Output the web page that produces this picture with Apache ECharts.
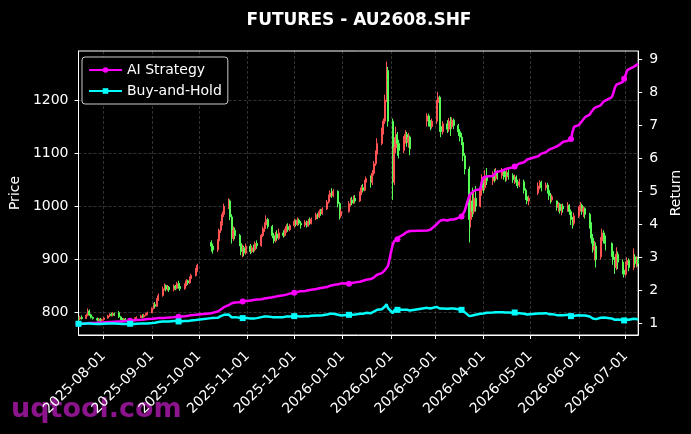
<!DOCTYPE html>
<html><head><meta charset="utf-8">
<script src="https://cdn.jsdelivr.net/npm/echarts@6/dist/echarts.min.js"></script>
<style>html,body{margin:0;padding:0;background:#000;}#c{width:691px;height:434px;}</style>
</head><body><div id="c"></div>
<script>
// ---- data ----
const titleText = 'FUTURES - AU2608.SHF';
const firstDay = '2025-07-16';
const lastDay = '2026-07-09';
// trading days (exchange calendar) per month
const tradingDays = {
  '2025-07': [16,17,18,21,22,23,24,25,28,29,30,31],
  '2025-08': [1,4,5,6,7,8,11,12,13,14,15,18,19,20,21,22,25,26,27,28,29],
  '2025-09': [1,2,3,4,5,8,9,10,11,12,15,16,17,18,19,22,23,24,25,26,29,30],
  '2025-10': [9,10,13,14,15,16,17,20,21,22,23,24,27,28,29,30,31],
  '2025-11': [3,4,5,6,7,10,11,12,13,14,17,18,19,20,21,24,25,26,27,28],
  '2025-12': [1,2,3,4,5,8,9,10,11,12,15,16,17,18,19,22,23,24,25,26,29,30,31],
  '2026-01': [5,6,7,8,9,12,13,14,15,16,19,20,21,22,23,26,27,28,29,30],
  '2026-02': [2,3,4,5,6,9,10,11,12,13,24,25,26,27],
  '2026-03': [2,3,4,5,6,9,10,11,12,13,16,17,18,19,20,23,24,25,26,27,30,31],
  '2026-04': [1,2,3,7,8,9,10,13,14,15,16,17,20,21,22,23,24,27,28,29,30],
  '2026-05': [6,7,8,11,12,13,14,15,18,19,20,21,22,25,26,27,28,29],
  '2026-06': [1,2,3,4,5,8,9,10,11,12,15,16,17,18,22,23,24,25,26,29,30],
  '2026-07': [1,2,3,6,7,8,9]
};
// daily candles: [open, close, low, high]
const candles = [
 [790,788,785,793],[788,791,786,794],[791,789,787,795],
 [789,795,788,798],[795,803,793,808],[803,796,794,806],[796,791,789,798],[791,789,787,793],
 [789,786,784,791],[786,788,783,790],[788,785,782,790],[785,787,783,789],[787,790,785,792],
 [790,794,789,796],[794,797,792,799],[797,795,793,800],[795,798,793,801],[798,796,794,800],
 [800,792,790,803],[792,788,786,794],[788,786,784,790],[786,788,784,790],[788,785,783,790],
 [785,787,783,789],[787,784,782,789],[784,786,782,788],[786,789,785,791],[789,791,787,793],
 [791,794,790,796],[794,792,790,797],[792,795,791,798],[795,797,793,799],[797,800,795,802],
 [800,808,799,810],[808,815,806,818],[815,812,809,820],[812,824,811,827],[824,832,822,836],
 [832,845,830,849],[845,851,842,855],[851,844,840,853],[844,848,841,852],[848,843,839,850],
 [843,850,840,853],[850,846,842,852],[846,855,844,858],[855,849,845,860],[849,845,841,851],
 [845,852,843,855],[852,860,850,863],[860,856,852,862],[856,864,854,868],[864,870,861,873],
 [870,880,868,884],[880,889,877,892],
 [932,925,915,936],[925,918,911,930],
 [918,935,914,938],[935,955,932,958],[955,968,950,972],[968,985,964,990],[985,1000,980,1005],
 [1000,1010,995,1015],[1010,980,974,1013],[980,940,930,985],[940,955,935,962],[955,945,938,960],
 [945,930,925,948],[930,915,908,933],[915,922,904,928],[922,912,906,926],[912,925,909,930],
 [925,915,910,929],[915,922,912,926],[922,918,913,928],[918,930,915,934],[930,926,920,936],
 [926,945,924,948],[945,958,942,962],[958,965,952,970],[965,975,960,983],[975,962,958,978],
 [962,945,940,965],[945,935,930,950],[935,948,932,952],[948,940,936,955],[940,950,937,958],
 [950,945,941,955],[945,955,943,958],[955,962,950,966],[962,956,952,968],[956,964,953,967],
 [964,972,960,976],[972,966,962,975],[966,974,963,979],[974,968,964,977],[968,965,958,972],
 [965,970,961,974],[970,963,960,973],[963,972,962,976],[972,968,965,979],[968,976,966,979],
 [976,984,974,988],[984,980,976,987],[980,990,978,994],[990,986,982,995],[986,995,984,998],
 [995,1008,993,1012],[1008,1018,1005,1022],[1018,1025,1014,1030],[1025,1020,1016,1034],[1020,1028,1017,1032],
 [1028,1005,998,1030],[1005,982,975,1008],[982,990,978,995],
 [990,1005,988,1010],[1005,1012,1000,1016],[1012,1006,1002,1018],[1006,1015,1004,1020],[1015,1010,1006,1021],
 [1010,1025,1008,1028],[1025,1035,1021,1040],[1035,1030,1026,1042],[1030,1045,1028,1050],[1045,1052,1040,1056],
 [1052,1045,1035,1058],[1045,1062,1040,1068],[1062,1080,1058,1085],[1080,1098,1076,1105],[1098,1118,1094,1128],
 [1118,1140,1115,1148],[1140,1160,1135,1165],[1160,1200,1155,1210],[1200,1258,1196,1272],[1255,1160,1150,1262],
 [1160,1045,1012,1165],[1045,1110,1040,1130],[1110,1135,1100,1150],[1135,1118,1095,1140],[1118,1105,1090,1125],
 [1105,1125,1100,1132],[1125,1135,1118,1143],[1135,1120,1112,1140],[1120,1130,1110,1138],[1130,1108,1096,1133],
 [1160,1170,1150,1175],[1170,1158,1150,1174],[1158,1150,1143,1162],[1150,1160,1146,1165],
 [1160,1195,1155,1200],[1195,1205,1185,1215],[1205,1150,1140,1208],[1150,1140,1130,1158],[1140,1155,1135,1160],
 [1155,1145,1138,1162],[1145,1160,1140,1166],[1160,1150,1132,1168],[1150,1162,1145,1167],[1162,1152,1145,1165],
 [1152,1140,1132,1155],[1140,1130,1122,1145],[1130,1120,1115,1138],[1120,1095,1085,1125],[1095,1070,1060,1100],
 [1070,975,932,1075],[975,1010,960,1025],[1010,990,980,1035],[990,1015,985,1030],[1015,1000,990,1038],
 [1000,1030,998,1040],[1030,1045,1020,1060],[1045,1035,1025,1055],[1035,1055,1030,1068],[1055,1048,1040,1072],
 [1048,1060,1040,1066],[1060,1052,1045,1070],[1052,1065,1048,1072],[1065,1058,1050,1068],
 [1058,1066,1052,1072],[1066,1060,1050,1070],[1060,1055,1046,1066],[1055,1063,1048,1068],[1063,1058,1050,1070],
 [1058,1050,1044,1062],[1050,1055,1042,1060],[1055,1045,1038,1058],[1045,1040,1034,1050],[1040,1046,1036,1052],
 [1046,1030,1024,1050],[1030,1018,1012,1034],[1018,1010,1004,1022],[1010,1015,1002,1020],
 [1025,1038,1021,1045],[1038,1045,1032,1049],[1045,1035,1028,1048],
 [1035,1040,1030,1045],[1040,1030,1024,1044],[1030,1020,1012,1036],[1020,1012,1005,1025],[1012,1018,1008,1022],
 [1010,998,992,1011],[998,1004,990,1008],[1004,992,986,1006],[992,1000,983,1004],[1000,995,988,1005],
 [995,1002,990,1008],[1002,990,984,1004],[990,975,965,994],[975,968,958,980],[968,982,964,988],
 [982,995,978,1000],[995,1002,990,1008],[1002,990,984,1005],[990,996,980,1000],[996,985,977,998],
 [985,965,958,988],[965,940,930,970],[940,918,913,948],[918,925,898,935],[925,900,885,932],
 [905,935,900,942],[935,950,928,958],[950,938,930,955],[938,930,917,945],
 [930,915,905,932],[915,900,890,922],[900,885,873,905],[885,910,880,923],[910,895,882,915],
 [895,880,872,900],[880,872,866,888],[872,890,868,896],[890,898,884,904],[898,885,878,902],
 [885,905,880,921],[905,892,886,910],[892,900,885,906],[900,893,887,905]
];
// cumulative return of the AI strategy, per trading day
const aiReturn = [
 1.00,1.00,1.00, 1.01,1.02,1.02,1.02,1.02, 1.03,1.03,1.04,1.04,1.04, 1.05,1.05,1.05,1.06,1.06, 1.07,1.07,1.07,1.08,1.08,
 1.09,1.09,1.10,1.10,1.11, 1.12,1.12,1.13,1.13,1.14, 1.15,1.15,1.16,1.16,1.17, 1.17,1.18,1.18,1.19,1.19,
 1.20,1.20,1.21,1.21,1.22, 1.23,1.24,1.24,1.25,1.26, 1.27,1.28, 1.32,1.34,
 1.37,1.40,1.43,1.46,1.50, 1.56,1.60,1.62,1.63,1.64, 1.65,1.66,1.67,1.68,1.69, 1.70,1.71,1.72,1.72,1.73,
 1.74,1.75,1.76,1.77,1.78, 1.80,1.81,1.82,1.83,1.84, 1.86,1.87,1.88,1.89,1.91, 1.94,1.95,1.96,1.97,1.98,
 1.99,2.00,2.01,2.02,2.03, 2.05,2.06,2.07,2.08,2.09, 2.11,2.13,2.15,2.16,2.17, 2.19,2.21,2.22,
 2.21,2.22,2.23,2.24,2.25, 2.27,2.29,2.30,2.31,2.33, 2.35,2.37,2.40,2.44,2.48, 2.53,2.58,2.62,2.67,2.75,
 3.40,3.50,3.55,3.55,3.62, 3.70,3.74,3.77,3.79,3.80, 3.82,3.83,3.84,3.86,
 4.00,4.06,4.10,4.12,4.14, 4.12,4.14,4.15,4.16,4.15, 4.20,4.22,4.24,4.26,4.40, 4.88,4.94,4.98,5.02,5.04,
 5.06,5.30,5.42,5.44,5.45, 5.46,5.50,5.58,5.60, 5.62,5.65,5.67,5.69,5.70, 5.72,5.75,5.78,5.82,5.84,
 5.88,5.92,5.96,6.00, 6.06,6.10,6.14, 6.18,6.22,6.26,6.28,6.30, 6.36,6.40,6.42,6.46,6.50, 6.53,6.56,6.58,6.80,6.95,
 7.00,7.06,7.12,7.18,7.24, 7.32,7.40,7.46,7.52,7.56, 7.60,7.66,7.72,7.78, 7.84,7.95,8.12,8.22,8.26,
 8.30,8.40,8.52,8.66,8.70, 8.76,8.79,8.82,8.85
];
// cumulative return of buy-and-hold, per trading day
const bhReturn = [
 1.00,1.00,1.00, 1.01,1.02,1.01,1.00,1.00, 0.99,1.00,0.99,1.00,1.00, 1.01,1.01,1.01,1.01,1.01, 1.00,1.00,0.99,1.00,0.99,
 1.00,0.99,0.99,1.00,1.00, 1.01,1.00,1.01,1.01,1.01, 1.02,1.03,1.03,1.04,1.05, 1.07,1.08,1.07,1.07,1.07,
 1.08,1.07,1.08,1.07,1.07, 1.08,1.09,1.08,1.09,1.10, 1.11,1.13, 1.17,1.16,
 1.18,1.21,1.23,1.25,1.27, 1.28,1.24,1.19,1.21,1.20, 1.18,1.16,1.17,1.15,1.17, 1.16,1.17,1.16,1.18,1.17,
 1.20,1.21,1.22,1.23,1.22, 1.20,1.18,1.20,1.19,1.20, 1.20,1.21,1.22,1.21,1.22, 1.23,1.22,1.23,1.23,1.22,
 1.23,1.22,1.23,1.23,1.24, 1.25,1.24,1.25,1.25,1.26, 1.28,1.29,1.30,1.29,1.30, 1.27,1.24,1.25,
 1.27,1.28,1.27,1.28,1.28, 1.30,1.31,1.30,1.32,1.33, 1.32,1.34,1.37,1.39,1.42, 1.44,1.47,1.52,1.59,1.47,
 1.32,1.41,1.44,1.42,1.40, 1.42,1.44,1.42,1.43,1.40, 1.48,1.47,1.46,1.47,
 1.51,1.53,1.46,1.44,1.46, 1.45,1.47,1.46,1.47,1.46, 1.44,1.43,1.42,1.39,1.35, 1.23,1.28,1.25,1.28,1.27,
 1.30,1.32,1.31,1.34,1.33, 1.34,1.33,1.35,1.34, 1.35,1.34,1.34,1.35,1.34, 1.33,1.34,1.32,1.32,1.32,
 1.30,1.29,1.28,1.28, 1.31,1.32,1.31, 1.32,1.30,1.29,1.28,1.29, 1.26,1.27,1.26,1.27,1.26, 1.27,1.25,1.23,1.23,1.24,
 1.26,1.27,1.25,1.26,1.25, 1.22,1.19,1.16,1.17,1.14, 1.18,1.20,1.19,1.18, 1.16,1.14,1.12,1.15,1.13,
 1.11,1.10,1.13,1.14,1.12, 1.15,1.13,1.14,1.13
];
const priceTicks = [800, 900, 1000, 1100, 1200];
const returnTicks = [1, 2, 3, 4, 5, 6, 7, 8, 9];
const seriesNames = ['AI Strategy', 'Buy-and-Hold'];
const markEvery = 23;

// ---- build calendar axis ----
const calendar = [];
for (let t = Date.parse(firstDay + 'T00:00:00Z'); t <= Date.parse(lastDay + 'T00:00:00Z'); t += 86400000) {
  calendar.push(new Date(t).toISOString().slice(0, 10));
}
const posOf = {};
calendar.forEach((d, i) => { posOf[d] = i; });
const tradeDates = [];
Object.keys(tradingDays).forEach(m => tradingDays[m].forEach(d => tradeDates.push(m + '-' + String(d).padStart(2, '0'))));
const candleData = calendar.map(() => '-');
const aiData = calendar.map(() => '-');
const bhData = calendar.map(() => '-');
const markerPos = new Set();
tradeDates.forEach((d, k) => {
  const i = posOf[d];
  if (i === undefined || k >= candles.length) return;
  candleData[i] = candles[k];
  aiData[i] = aiReturn[k];
  bhData[i] = bhReturn[k];
  if (k % markEvery === 0) markerPos.add(i);
});
const isMonthStart = (idx) => calendar[idx].slice(8) === '01';

const FONT = 'DejaVu Sans';
const RED = '#ff5252', GREEN = '#55ff55';
const chart = echarts.init(document.getElementById('c'), null, {renderer: 'canvas'});
chart.setOption({
  backgroundColor: '#000',
  animation: false,
  title: {
    text: titleText, left: 354, top: 7, textAlign: 'center',
    textStyle: {color: '#fff', fontSize: 17, fontWeight: 'bold', fontFamily: FONT}
  },
  legend: {
    data: seriesNames,
    orient: 'vertical', left: 82, top: 57,
    padding: [5, 6, 5, 6], itemGap: 5, itemWidth: 33, itemHeight: 7,
    backgroundColor: '#000', borderColor: '#cccccc', borderWidth: 1, borderRadius: 3,
    textStyle: {color: '#fff', fontSize: 14, fontFamily: FONT, lineHeight: 16}
  },
  grid: {left: 77, right: 49, top: 51, bottom: 99, show: true, borderColor: '#fff', borderWidth: 1, backgroundColor: 'transparent'},
  xAxis: {
    type: 'category', data: calendar, boundaryGap: false,
    axisLine: {show: true, lineStyle: {color: '#fff', width: 1}},
    axisTick: {show: true, interval: isMonthStart, length: 4, lineStyle: {color: '#fff'}},
    axisLabel: {interval: isMonthStart, rotate: 45, color: '#fff', fontSize: 14, fontFamily: FONT, margin: 19},
    splitLine: {show: true, interval: isMonthStart, lineStyle: {color: 'rgba(255,255,255,0.28)', type: [3, 2], width: 0.7}}
  },
  yAxis: [{
    type: 'value', min: 758, max: 1292, position: 'left',
    name: 'Price', nameLocation: 'middle', nameGap: 48, nameRotate: 90,
    nameTextStyle: {color: '#fff', fontSize: 14, fontFamily: FONT},
    axisLine: {show: true, lineStyle: {color: '#fff'}},
    axisTick: {show: true, length: 4, customValues: priceTicks, lineStyle: {color: '#fff'}},
    axisLabel: {color: '#fff', fontSize: 14, fontFamily: FONT, margin: 10, customValues: priceTicks, formatter: v => String(v)},
    splitLine: {show: true, lineStyle: {color: 'rgba(255,255,255,0.28)', type: [3, 2], width: 0.7}}
  }, {
    type: 'value', min: 0.66, max: 9.24, position: 'right',
    name: 'Return', nameLocation: 'middle', nameGap: 20, nameRotate: 90,
    nameTextStyle: {color: '#fff', fontSize: 14, fontFamily: FONT},
    axisLine: {show: true, lineStyle: {color: '#fff'}},
    axisTick: {show: true, length: 4, customValues: returnTicks, lineStyle: {color: '#fff'}},
    axisLabel: {color: '#fff', fontSize: 14, fontFamily: FONT, margin: 11, customValues: returnTicks},
    splitLine: {show: false}
  }],
  series: [{
    type: 'candlestick', name: 'Price', data: candleData, xAxisIndex: 0, yAxisIndex: 0,
    barWidth: 1.5,
    itemStyle: {color: RED, color0: GREEN, borderColor: RED, borderColor0: GREEN, borderWidth: 1},
    z: 1
  }, {
    type: 'line', name: seriesNames[0], data: aiData, yAxisIndex: 1, connectNulls: true,
    symbol: 'circle', showSymbol: true, showAllSymbol: true,
    symbolSize: (v, p) => markerPos.has(p.dataIndex) ? 6 : 0,
    lineStyle: {color: '#ff00ff', width: 2.5}, itemStyle: {color: '#ff00ff'},
    z: 3
  }, {
    type: 'line', name: seriesNames[1], data: bhData, yAxisIndex: 1, connectNulls: true,
    symbol: 'rect', showSymbol: true, showAllSymbol: true,
    symbolSize: (v, p) => markerPos.has(p.dataIndex) ? 6 : 0,
    lineStyle: {color: '#00ffff', width: 2.5}, itemStyle: {color: '#00ffff'},
    z: 4
  }],
  graphic: [{
    type: 'text', left: 11, top: 396, z: -10,
    style: {text: 'uqtool.com', fill: '#8c148c', font: 'bold 27px "DejaVu Sans"'}
  }]
});
</script>
</body></html>
